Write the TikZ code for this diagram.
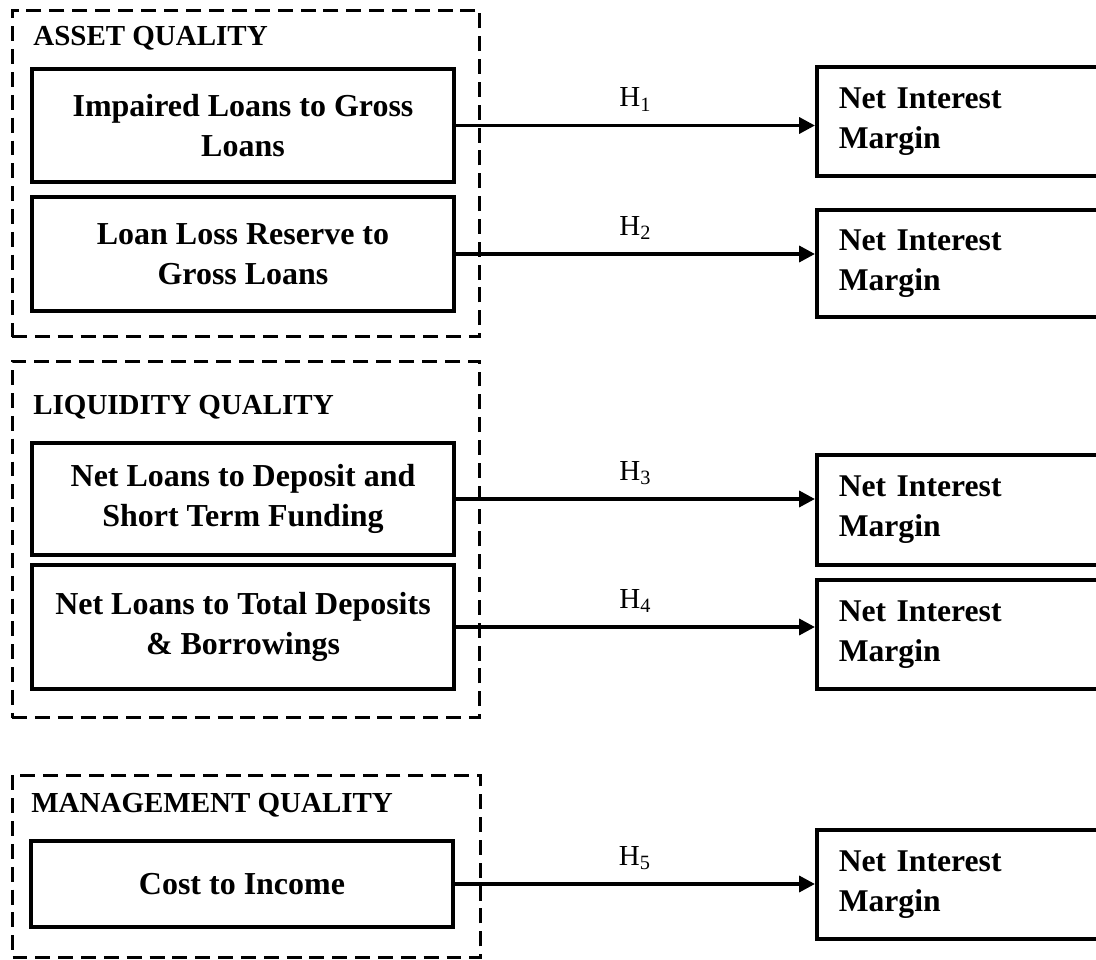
\documentclass[tikz,border=0pt]{standalone}
\usepackage{fontspec}
\setmainfont{Liberation Serif}
\usetikzlibrary{arrows.meta,positioning}
\tikzset{
  grp/.style   = {draw, dash pattern=on 8.5pt off 4.5pt, line width=1.7pt,
                  minimum width=9.36cm, inner sep=0pt},
  ttl/.style   = {anchor=west, inner sep=0pt, font=\fontsize{16.5}{20}\selectfont\bfseries},
  ratio/.style = {draw, line width=2pt, minimum width=8.44cm, align=center,
                  inner sep=2pt, font=\fontsize{18.2}{22.8}\selectfont\bfseries},
  nim/.style   = {draw, line width=2pt, text width=5.32cm, inner xsep=0.44cm,
                  align=left, minimum height=2.18cm, anchor=west,
                  font=\fontsize{18}{22.8}\selectfont\bfseries},
  hyp/.style   = {-{Triangle[length=9pt,width=9pt]}, line width=2.1pt},
  hlab/.style  = {font=\fontsize{16.5}{19}\selectfont, inner sep=2pt},
}

\begin{document}
\begin{tikzpicture}[x=0.02cm, y=-0.02cm]
\useasboundingbox (0,0) rectangle (1096,960);

% ---- asset quality ----
\node[grp, minimum height=6.54cm] (assetq) at (246,173.5) {};
\node[ttl] (ttlA) at (33,38) {ASSET QUALITY};
\node[ratio, minimum height=2.26cm] (ilgl) at (243,125.5) {Impaired Loans to Gross\\Loans};
\node[ratio, minimum height=2.28cm] (llrgl) at (243,254) {Loan Loss Reserve to\\Gross Loans};
\node[nim] (nim1) at (815,121.5) {Net Interest\\Margin};
\node[nim, minimum height=2.14cm] (nim2) at (815,263.5) {Net Interest\\Margin};
\draw[hyp] (ilgl.east) -- node[hlab, above=5pt]{H\textsubscript{1}} (ilgl.east -| nim1.west);
\draw[hyp] (llrgl.east) -- node[hlab, above=5pt]{H\textsubscript{2}} (llrgl.east -| nim2.west);

% ---- liquidity quality ----
\node[grp, minimum height=7.14cm] (liqq) at (246,539.5) {};
\node[ttl] (ttlL) at (33,407) {LIQUIDITY QUALITY};
\node[ratio, minimum height=2.24cm] (nldst) at (243,499) {Net Loans to Deposit and\\Short Term Funding};
\node[ratio, minimum height=2.48cm] (nltdb) at (243,627) {Net Loans to Total Deposits\\\& Borrowings};
\node[nim, minimum height=2.2cm] (nim3) at (815,510) {Net Interest\\Margin};
\node[nim] (nim4) at (815,634.5) {Net Interest\\Margin};
\draw[hyp] (nldst.east) -- node[hlab, above=5pt]{H\textsubscript{3}} (nldst.east -| nim3.west);
\draw[hyp] (nltdb.east) -- node[hlab, above=5pt]{H\textsubscript{4}} (nltdb.east -| nim4.west);

% ---- management quality ----
\node[grp, minimum height=3.66cm] (mgmtq) at (246.5,866.5) {};
\node[ttl] (ttlM) at (31,805) {MANAGEMENT QUALITY};
\node[ratio, minimum height=1.72cm] (cti) at (242,884) {Cost to Income};
\node[nim] (nim5) at (815,884.5) {Net Interest\\Margin};
\draw[hyp] (cti.east) -- node[hlab, above=5pt]{H\textsubscript{5}} (cti.east -| nim5.west);

\end{tikzpicture}
\end{document}
